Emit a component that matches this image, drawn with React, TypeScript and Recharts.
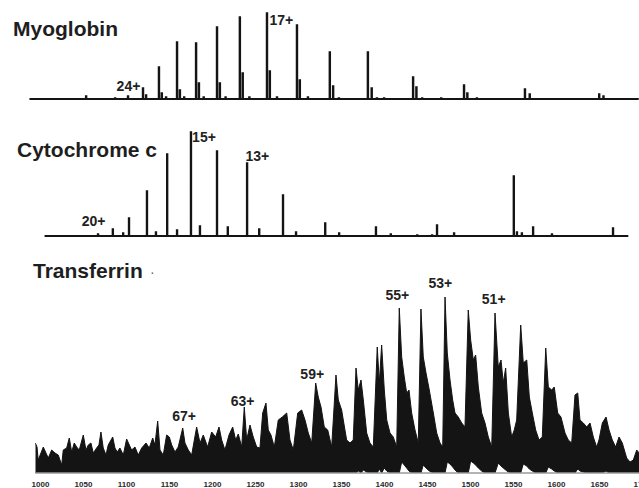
import React from 'react';
import { ComposedChart, Area, XAxis, YAxis, ReferenceDot } from 'recharts';

// m/z, relative intensity (stick spectra)
const myoglobinPeaks: [number, number][] = [
  [619, 3], [680, 1], [707, 3], [738.5, 11], [745, 4], [772, 32], [778, 6], [787, 2],
  [810, 57], [816, 9], [825, 2], [850, 56], [856, 16], [866, 2], [894, 72], [900, 16],
  [912, 2], [942, 82], [948, 26], [962, 2], [999, 86], [1005, 28], [1020, 2], [1062, 74],
  [1068, 19], [1085, 2], [1131, 47], [1138, 13], [1150, 1], [1211, 47], [1219, 11],
  [1230, 1], [1245, 1], [1306, 22], [1313, 12], [1325, 1], [1365, 1], [1413, 14],
  [1420, 6], [1440, 1], [1541, 10], [1551, 5], [1697, 5], [1706, 3],
];

const cytochromePeaks: [number, number][] = [
  [619, 2], [652, 7], [675, 3], [688, 18], [728, 45], [748, 4], [773, 82], [795, 6],
  [826, 104], [846, 10], [884, 85], [908, 9], [951, 73], [978, 7], [1031, 41], [1060, 4],
  [1125, 13], [1156, 3], [1238, 9], [1271, 2], [1330, 1], [1363, 1], [1374, 11], [1412, 3],
  [1545, 60], [1552, 4], [1563, 3], [1588, 9], [1630, 2], [1766, 8],
];

// m/z, upper envelope, lower envelope of the dense transferrin trace
const transferrinTrace: [number, number, number][] = [
  [994, 30, 0], [996, 26, 0], [997.4, 13, 0], [1003.3, 26, 0], [1006.4, 20, 0],
  [1009.1, 15, 0], [1013, 23, 0], [1016.9, 20, 0], [1020.7, 18, 0], [1024.7, 8, 0],
  [1026.5, 23, 0], [1030.5, 25, 0], [1033.5, 35, 0], [1036.3, 21, 0], [1039.3, 30, 0],
  [1042.1, 26, 0], [1045.1, 23, 0], [1049.8, 38, 0], [1052.9, 23, 0], [1055.6, 28, 0],
  [1058.7, 30, 0], [1061.4, 20, 0], [1065.3, 25, 0], [1068, 28, 0], [1070.3, 41, 0],
  [1073, 25, 0], [1076.2, 18, 0], [1078.8, 28, 0], [1084, 36, 0], [1086.6, 25, 0],
  [1089.3, 21, 0], [1092.4, 25, 0], [1096.3, 18, 0], [1100.2, 34, 0], [1103.3, 28, 0],
  [1106, 23, 0], [1109.9, 26, 0], [1113.7, 18, 0], [1117.7, 25, 0], [1122.7, 30, 0],
  [1126.5, 25, 0], [1130.5, 35, 0], [1133.1, 28, 0], [1136.3, 52, 0], [1139, 23, 0],
  [1142.8, 18, 0], [1146.7, 38, 0], [1149.8, 36, 0], [1152.6, 28, 0], [1156.4, 21, 0],
  [1160.2, 26, 0], [1165.4, 45, 0], [1168, 30, 0], [1171.9, 23, 0], [1175.8, 18, 0],
  [1181.6, 46, 0], [1185.5, 30, 0], [1189.3, 38, 0], [1194.4, 26, 0], [1199.1, 41, 0],
  [1203.7, 36, 0], [1207.6, 46, 0], [1210.7, 33, 0], [1214.5, 23, 0], [1219.2, 38, 0],
  [1223.5, 46, 0], [1227, 33, 0], [1230, 39, 0], [1234, 26, 0], [1237, 66, 0],
  [1239.8, 33, 0], [1243.6, 48, 0], [1247.4, 36, 0], [1251.4, 26, 0], [1255.2, 25, 0],
  [1258.4, 60, 0], [1262.2, 70, 0], [1264.9, 43, 0], [1268, 38, 0], [1271.9, 26, 0],
  [1276.5, 53, 0], [1281.2, 56, 0], [1286.3, 60, 0], [1290.1, 33, 0], [1294, 23, 0],
  [1299.1, 60, 0], [1303.7, 63, 0], [1307.6, 53, 0], [1311.4, 40, 0], [1315.4, 30, 0],
  [1320, 90, 0], [1323, 76, 0], [1326.2, 66, 0], [1330, 46, 0], [1334, 43, 0],
  [1338.6, 26, 0], [1343.6, 98, 0], [1346.3, 73, 0], [1350.2, 63, 0], [1352.1, 53, 0],
  [1356, 33, 0], [1359.9, 30, 0], [1363.7, 33, 0], [1366.9, 105, 0], [1369.5, 83, 2],
  [1372.7, 93, 0], [1375.4, 73, 3], [1379.3, 40, 1], [1383.1, 30, 0], [1387, 26, 0],
  [1391.6, 126, 0], [1394, 90, 4], [1396.7, 128, 0], [1399.8, 83, 5], [1402.6, 53, 2],
  [1406.4, 40, 0], [1410.2, 36, 0], [1414.2, 26, 0], [1417.2, 165, 0], [1420, 116, 11],
  [1423, 96, 8], [1425.8, 80, 5], [1428.5, 83, 2], [1431.6, 60, 0], [1435.5, 43, 0],
  [1439.3, 30, 0], [1442.4, 164, 0], [1445.1, 116, 8], [1448.3, 100, 5], [1452.1, 83, 2],
  [1456.8, 60, 0], [1460.7, 40, 0], [1464.6, 30, 0], [1467.7, 26, 0], [1470.4, 176, 0],
  [1473, 120, 11], [1476.2, 93, 9], [1479.3, 73, 6], [1482, 60, 3], [1485.8, 56, 0],
  [1489.8, 50, 0], [1493.6, 46, 0], [1497.4, 163, 0], [1500.2, 133, 12], [1503.3, 113, 10],
  [1506, 118, 8], [1509.1, 86, 5], [1513, 60, 2], [1516.9, 50, 0], [1520.7, 36, 0],
  [1524.7, 26, 0], [1528.5, 160, 0], [1532.3, 106, 10], [1535.5, 113, 7], [1538.1, 90, 5],
  [1540.9, 105, 3], [1544, 60, 1], [1547.9, 36, 0], [1550.9, 43, 0], [1553.7, 53, 0],
  [1558.4, 148, 0], [1561.4, 110, 9], [1565.4, 113, 7], [1568.4, 76, 4], [1571.9, 60, 2],
  [1575.8, 43, 0], [1579.7, 33, 0], [1583.5, 36, 0], [1587.5, 125, 0], [1590.5, 86, 6],
  [1594.4, 83, 4], [1597.4, 86, 2], [1601.4, 60, 0], [1605.2, 56, 0], [1609.9, 40, 0],
  [1613.7, 33, 0], [1617.7, 30, 0], [1621.5, 78, 0], [1624.7, 80, 4], [1627.3, 53, 2],
  [1631.2, 50, 1], [1635.1, 46, 0], [1639, 50, 0], [1642.8, 36, 0], [1646.7, 26, 0],
  [1649.4, 33, 0], [1653.3, 50, 0], [1657.6, 56, 2], [1661.1, 43, 0], [1664.9, 33, 0],
  [1668.8, 26, 0], [1672.7, 36, 0], [1676.5, 30, 0], [1681.6, 15, 0], [1685.5, 11, 0],
  [1689.3, 13, 0], [1693.3, 23, 0], [1696, 20, 0], [1700, 18, 0],
];

const massTicks = [1000, 1050, 1100, 1150, 1200, 1250, 1300, 1350, 1400, 1450, 1500, 1550, 1600, 1650, 1700];

// charge-state annotations: text, m/z, intensity of the text baseline
const myoglobinLabels = [
  { text: '24+', mz: 708, at: 8 },
  { text: '17+', mz: 1029, at: 74 },
];
const cytochromeLabels = [
  { text: '20+', mz: 609, at: 10 },
  { text: '15+', mz: 855, at: 94 },
  { text: '13+', mz: 974, at: 75 },
];
const transferrinLabels = [
  { text: '67+', mz: 1167, at: 52 },
  { text: '63+', mz: 1235, at: 67 },
  { text: '59+', mz: 1316, at: 94 },
  { text: '55+', mz: 1415, at: 173 },
  { text: '53+', mz: 1465, at: 185 },
  { text: '51+', mz: 1527, at: 169 },
];

const FONT = '"Liberation Sans", Arial, Helvetica, sans-serif';
const INK = '#141414';

// turn a peak list into narrow flat-topped sticks for an Area
const toSticks = (peaks: [number, number][], from: number, to: number) => {
  const rows = [{ mz: from, y: 0 }];
  [...peaks].sort((a, b) => a[0] - b[0]).forEach(([mz, h]) => {
    rows.push({ mz: mz - 1.2, y: 0 }, { mz: mz - 1.2, y: h }, { mz: mz + 1.2, y: h }, { mz: mz + 1.2, y: 0 });
  });
  rows.push({ mz: to, y: 0 });
  return rows;
};

const transferrinRows = transferrinTrace.map(([mz, high, low]) => ({ mz, range: [low, high] }));

const chargeLabel = (text: string) => (p: any) => (
  <text x={p.cx} y={p.cy} textAnchor="middle" fontFamily={FONT} fontSize={14} fontWeight="bold" fill="#222">
    {text}
  </text>
);

const renderLabels = (labels: { text: string; mz: number; at: number }[]) =>
  labels.map((l) => (
    <ReferenceDot key={l.text} x={l.mz} y={l.at} r={0} ifOverflow="visible" shape={chargeLabel(l.text)} />
  ));

export default function App() {
  return (
    <div style={{ position: 'absolute', left: 0, top: 0, width: 639, height: 488, overflow: 'hidden', background: '#fff' }}>
      <div style={{ position: 'absolute', left: 0, top: 0 }}>
        <ComposedChart width={639} height={104} data={toSticks(myoglobinPeaks, 500, 1780)}
          margin={{ top: 4, right: 0.3, bottom: 3, left: 29.5 }}>
          <XAxis type="number" dataKey="mz" domain={[500, 1780]} allowDataOverflow height={2}
            tick={false} tickLine={false} axisLine={{ stroke: INK, strokeWidth: 2 }} />
          <YAxis hide domain={[0, 95]} allowDataOverflow />
          <Area type="linear" dataKey="y" stroke={INK} strokeWidth={1.3} fill={INK} fillOpacity={1}
            dot={false} activeDot={false} isAnimationActive={false} />
          {renderLabels(myoglobinLabels)}
        </ComposedChart>
      </div>

      <div style={{ position: 'absolute', left: 0, top: 120 }}>
        <ComposedChart width={639} height={121} data={toSticks(cytochromePeaks, 500, 1800)}
          margin={{ top: 6, right: 10.7, bottom: 3, left: 44.6 }}>
          <XAxis type="number" dataKey="mz" domain={[500, 1800]} allowDataOverflow height={2}
            tick={false} tickLine={false} axisLine={{ stroke: INK, strokeWidth: 2 }} />
          <YAxis hide domain={[0, 110]} allowDataOverflow />
          <Area type="linear" dataKey="y" stroke={INK} strokeWidth={1.3} fill={INK} fillOpacity={1}
            dot={false} activeDot={false} isAnimationActive={false} />
          {renderLabels(cytochromeLabels)}
        </ComposedChart>
      </div>

      <div style={{ position: 'absolute', left: 0, top: 260 }}>
        <ComposedChart width={650} height={235} data={transferrinRows}
          margin={{ top: 13, right: 7.5, bottom: 2, left: 35.3 }}>
          <XAxis type="number" dataKey="mz" domain={[994, 1700]} allowDataOverflow height={20}
            ticks={massTicks} interval={0} tickLine={false}
            axisLine={{ stroke: '#9a9a9a', strokeWidth: 1.5 }}
            tick={{ fontSize: 8, fontWeight: 'bold', fill: '#2a2a2a', fontFamily: FONT }} />
          <YAxis hide domain={[0, 200]} allowDataOverflow />
          <Area type="linear" dataKey="range" stroke={INK} strokeWidth={1} fill={INK} fillOpacity={1}
            dot={false} activeDot={false} isAnimationActive={false} />
          {renderLabels(transferrinLabels)}
        </ComposedChart>
      </div>

      <svg width={639} height={488} style={{ position: 'absolute', left: 0, top: 0, pointerEvents: 'none' }}>
        <g fontFamily={FONT} fontWeight="bold" fontSize={21} fill="#1e1e1e">
          <text x={13} y={36}>Myoglobin</text>
          <text x={17} y={157}>Cytochrome c</text>
          <text x={33} y={278}>Transferrin</text>
        </g>
        <text x={150} y={277} fontFamily={FONT} fontSize={14} fill="#666">·</text>
      </svg>
    </div>
  );
}
